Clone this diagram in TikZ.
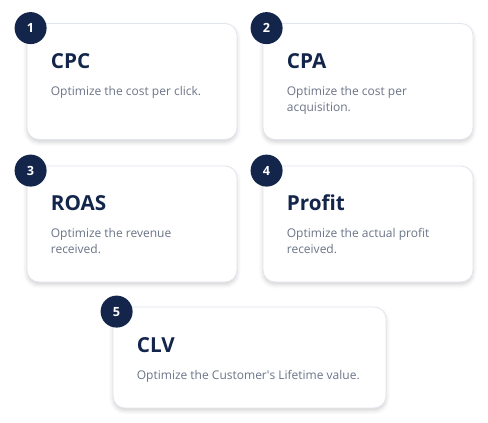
\documentclass[tikz,border=0pt]{standalone}
\usepackage{fontspec}
\setmainfont{Open Sans}
\usetikzlibrary{shadows.blur}
\definecolor{navy}{HTML}{13254B}
\definecolor{slate}{HTML}{6B7588}
\definecolor{edge}{HTML}{E1E5EE}
\begin{document}
\begin{tikzpicture}[x=0.75pt,y=-0.75pt,
	card/.style={rectangle,draw=edge,line width=0.6pt,fill=white,rounded corners=9pt,
		minimum width=157.5pt,minimum height=87pt,inner sep=0pt,
		blur shadow={shadow xshift=0pt,shadow yshift=-2pt,shadow opacity=18,shadow blur radius=3pt}},
	wide/.style={minimum width=204.75pt,minimum height=75.75pt},
	num/.style={circle,fill=navy,text=white,minimum size=24pt,inner sep=0pt,
		font=\fontsize{9.5}{11}\selectfont\bfseries},
	title/.style={anchor=base west,inner sep=0pt,text=navy,
		font=\fontsize{15.5}{18}\selectfont\bfseries},
	desc/.style={anchor=base west,inner sep=0pt,text=slate,align=left,
		font=\fontsize{9}{12}\selectfont}]

  \useasboundingbox (0,0) rectangle (488,422);

  % cards
  \node [card] (c1) at (132,81.5) {};
  \node [card] (c2) at (368,81.5) {};
  \node [card] (c3) at (132,224) {};
  \node [card] (c4) at (368,224) {};
  \node [card,wide] (c5) at (249.5,357.5) {};

  % numbers
  \node [num] (n1) at ([shift={(4,5)}]c1.north west) {1};
  \node [num] (n2) at ([shift={(4,5)}]c2.north west) {2};
  \node [num] (n3) at ([shift={(4,5)}]c3.north west) {3};
  \node [num] (n4) at ([shift={(4,5)}]c4.north west) {4};
  \node [num] (n5) at ([shift={(4,5)}]c5.north west) {5};

  % titles
  \node [title] (t1) at ([shift={(24,45)}]c1.north west) {CPC};
  \node [title] (t2) at ([shift={(24,45)}]c2.north west) {CPA};
  \node [title] (t3) at ([shift={(24,45)}]c3.north west) {ROAS};
  \node [title] (t4) at ([shift={(24,45)}]c4.north west) {Profit};
  \node [title] (t5) at ([shift={(24,46)}]c5.north west) {CLV};

  % texts (base = last line)
  \node [desc] (d1) at ([shift={(24,72)}]c1.north west) {Optimize the cost per click.};
  \node [desc] (d2) at ([shift={(24,88)}]c2.north west) {Optimize the cost per\\acquisition.};
  \node [desc] (d3) at ([shift={(24,88)}]c3.north west) {Optimize the revenue\\received.};
  \node [desc] (d4) at ([shift={(24,88)}]c4.north west) {Optimize the actual profit\\received.};
  \node [desc] (d5) at ([shift={(24,73)}]c5.north west) {Optimize the Customer\textquotesingle s Lifetime value.};

\end{tikzpicture}
\end{document}
